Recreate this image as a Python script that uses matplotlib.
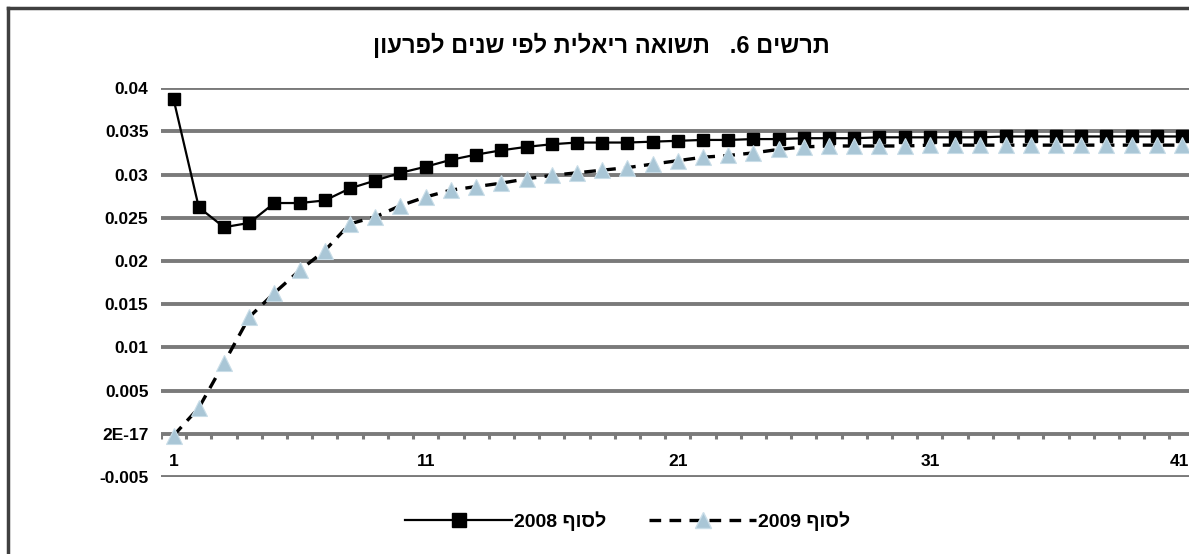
import matplotlib.pyplot as plt
import numpy as np
from matplotlib.lines import Line2D

plt.rcParams['font.family'] = ['Liberation Sans', 'DejaVu Sans']

# years to maturity
years = np.arange(1, 42)

# real yield, end of 2008
yield_2008 = [0.0387, 0.0262, 0.0239, 0.0244, 0.0267, 0.0267, 0.0270, 0.0284, 0.0293, 0.0302,
              0.0309, 0.0317, 0.0323, 0.0328, 0.0332, 0.0335, 0.0337, 0.0337, 0.0337, 0.0338,
              0.0339, 0.0340, 0.0340, 0.0341, 0.0341, 0.0342, 0.0342, 0.0342, 0.0343, 0.0343,
              0.0343, 0.0343, 0.0343, 0.0344, 0.0344, 0.0344, 0.0344, 0.0344, 0.0344, 0.0344,
              0.0344]

# real yield, end of 2009
yield_2009 = [-0.0002, 0.0030, 0.0082, 0.0135, 0.0163, 0.0189, 0.0212, 0.0243, 0.0251, 0.0264,
              0.0274, 0.0282, 0.0286, 0.0290, 0.0295, 0.0299, 0.0302, 0.0305, 0.0308, 0.0312,
              0.0316, 0.0320, 0.0322, 0.0325, 0.0329, 0.0332, 0.0333, 0.0333, 0.0333, 0.0333,
              0.0334, 0.0334, 0.0334, 0.0334, 0.0334, 0.0334, 0.0334, 0.0334, 0.0334, 0.0334,
              0.0334]

y_ticks = [-0.005, 0, 0.005, 0.01, 0.015, 0.02, 0.025, 0.03, 0.035, 0.04]
y_labels = ['-0.005', '2E-17', '0.005', '0.01', '0.015', '0.02', '0.025', '0.03', '0.035', '0.04']
x_labels = [1, 11, 21, 31, 41]

# hebrew text in visual (left-to-right) order
title = "תרשים 6.   תשואה ריאלית לפי שנים לפרעון"[::-1]
label_2008 = "2008 " + "לסוף"[::-1]
label_2009 = "2009 " + "לסוף"[::-1]

fig = plt.figure(figsize=(11.89, 5.54), dpi=100)
ax = fig.add_axes([0.1354, 0.139, 0.8693, 0.702])

grid_col = '#7a7a7a'
for v in y_ticks:
    ax.axhline(v, color=grid_col, lw=2.8, zorder=1)

# category tick marks below the zero line
for t in np.arange(0.5, 42, 1):
    ax.plot([t, t], [0, -0.00055], color=grid_col, lw=2.2, zorder=1, solid_capstyle='butt')

ax.plot(years, yield_2008, color='black', lw=1.6, marker='s', ms=9,
        mfc='black', mec='black', zorder=3)
ax.plot(years, yield_2009, color='black', lw=2.4, ls=(0, (3.5, 2.5)), zorder=4)
ax.plot(years, yield_2009, ls='none', marker='^', ms=11, mfc='#a9c6d6',
        mec='#c9dde8', mew=0.8, zorder=5)

ax.set_xlim(0.5, 41.5)
ax.set_ylim(-0.005, 0.04)
ax.set_yticks(y_ticks)
ax.set_yticklabels(y_labels, fontsize=12.5, fontweight='bold')
ax.set_xticks([])
for xl in x_labels:
    # last label sits at the very edge of the picture
    if xl == x_labels[-1]:
        ax.text(xl + 0.3, -0.0032, str(xl), ha='right', va='center', fontsize=12.5,
                fontweight='bold')
    else:
        ax.text(xl, -0.0032, str(xl), ha='center', va='center', fontsize=12.5,
                fontweight='bold')
ax.tick_params(axis='y', length=0, pad=9)
for s in ax.spines.values():
    s.set_visible(False)
ax.set_facecolor('none')

fig.text(0.506, 0.918, title, ha='center', va='center', fontsize=17, fontweight='bold')

handles = [Line2D([], [], color='black', lw=1.6, marker='s', ms=10),
           Line2D([], [], color='black', lw=2.4, ls=(0, (3.5, 2.5)), marker='^', ms=11,
                  mfc='#a9c6d6', mec='#c9dde8')]
leg = fig.legend(handles, [label_2008, label_2009], loc='center', bbox_to_anchor=(0.528, 0.06),
                 ncol=2, frameon=False, prop={'size': 14, 'weight': 'bold'},
                 handlelength=5.5, columnspacing=2.2, handletextpad=0.1)

# outer chart frame (left and top edges visible)
fig.add_artist(Line2D([0.0065, 0.0065], [0, 0.986], color='#404040', lw=2.5))
fig.add_artist(Line2D([0.0065, 1], [0.986, 0.986], color='#404040', lw=2.5))

fig.savefig('out.png', dpi=100)
